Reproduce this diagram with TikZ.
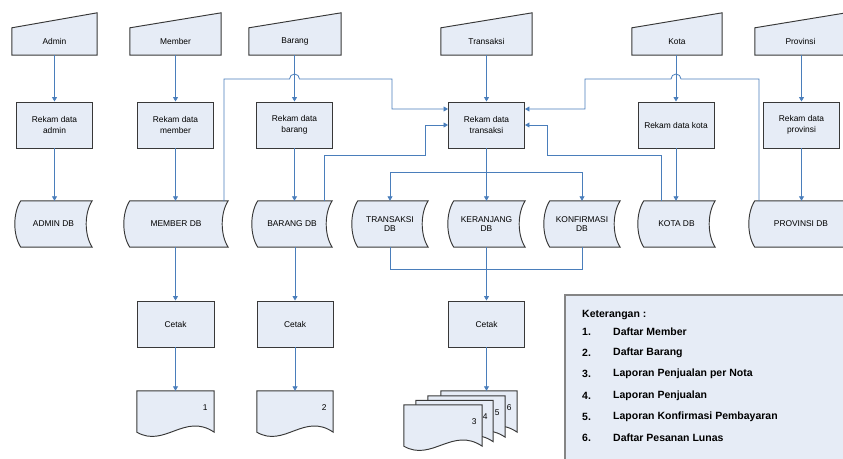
\documentclass[tikz,border=0pt]{standalone}
\usepackage{fontspec}
\setmainfont{Liberation Sans}
\usetikzlibrary{arrows.meta,calc}
\definecolor{boxfill}{HTML}{E6ECF6}
\definecolor{boxline}{HTML}{383838}
\definecolor{conncol}{HTML}{4A7EBB}
\definecolor{legline}{HTML}{858585}
\pgfdeclarelayer{bg}
\pgfsetlayers{bg,main}
\tikzset{
 base/.style={inner sep=0pt, font=\fontsize{8.4}{11}\selectfont, align=center},
 proc/.style={base, rectangle, draw=boxline, fill=boxfill, line width=0.95pt, minimum width=76pt, minimum height=46pt},
 ghost/.style={base, rectangle, draw=none},
 dbnode/.style={ghost, font=\fontsize{8.4}{9.5}\selectfont, minimum height=46pt},
 shp/.style={draw=boxline, fill=boxfill, line width=0.95pt},
 conn/.style={draw=conncol, line width=0.8pt, -{Triangle[length=4.5pt,width=5pt]}},
 wire/.style={draw=conncol, line width=0.8pt},
 numlab/.style={base},
 legtext/.style={inner sep=0pt, anchor=west, font=\fontsize{10.5}{12}\selectfont\bfseries},
}
\newcommand\inshape[1]{\begin{pgfonlayer}{bg}\path[shp] (#1.south west) -- (#1.north west) -- ([yshift=15pt]#1.north east) -- (#1.south east) -- cycle;\end{pgfonlayer}}
\newcommand\dbshape[1]{\begin{pgfonlayer}{bg}\path[shp] ([xshift=6pt]#1.north west) .. controls ([xshift=-2pt,yshift=-12pt]#1.north west) and ([xshift=-2pt,yshift=12pt]#1.south west) .. ([xshift=6pt]#1.south west) -- (#1.south east) .. controls ([xshift=-8pt,yshift=12pt]#1.south east) and ([xshift=-8pt,yshift=-12pt]#1.north east) .. (#1.north east) -- cycle;\end{pgfonlayer}}
\newcommand\docshape[1]{\begin{pgfonlayer}{bg}\path[shp] (#1.south west) -- (#1.north west) -- (#1.north east) -- (#1.south east) .. controls ($(#1.south west)!0.62!(#1.south east)+(0,-20)$) and ($(#1.south west)!0.36!(#1.south east)+(0,16)$) .. (#1.south west) -- cycle;\end{pgfonlayer}}
\begin{document}
\begin{tikzpicture}[x=1pt,y=-1pt]
\useasboundingbox (0,0) rectangle (843,458);
% inputs
\node[ghost, minimum width=85pt, minimum height=27pt] (iadm) at (54.5,41.5) {Admin}; \inshape{iadm}
\node[ghost, minimum width=91pt, minimum height=27pt] (imem) at (175.5,41.5) {Member}; \inshape{imem}
\node[ghost, minimum width=92pt, minimum height=27pt] (ibar) at (295,41.5) {Barang}; \inshape{ibar}
\node[ghost, minimum width=91pt, minimum height=27pt] (itra) at (486.5,41.5) {Transaksi}; \inshape{itra}
\node[ghost, minimum width=90pt, minimum height=27pt] (ikot) at (677,41.5) {Kota}; \inshape{ikot}
\node[ghost, minimum width=91pt, minimum height=27pt] (iprv) at (800.5,41.5) {Provinsi}; \inshape{iprv}
% processes
\node[proc] (padm) at (54.5,125) {Rekam data\\admin};
\node[proc] (pmem) at (175.5,125) {Rekam data\\member};
\node[proc] (pbar) at (294.5,125) {Rekam data\\barang};
\node[proc] (ptra) at (486.5,125) {Rekam data\\transaksi};
\node[proc] (pkot) at (676,125) {Rekam data kota};
\node[proc] (pprv) at (801.5,125) {Rekam data\\provinsi};
% databases
\node[dbnode, minimum width=77pt] (adb) at (53.5,224) {ADMIN DB}; \dbshape{adb}
\node[dbnode, minimum width=104pt] (mdb) at (176,224) {MEMBER DB}; \dbshape{mdb}
\node[dbnode, minimum width=80pt] (bdb) at (292,224) {BARANG DB}; \dbshape{bdb}
\node[dbnode, minimum width=76pt] (tdb) at (390,224) {TRANSAKSI\\DB}; \dbshape{tdb}
\node[dbnode, minimum width=77pt] (kdb) at (486.5,224) {KERANJANG\\DB}; \dbshape{kdb}
\node[dbnode, minimum width=76pt] (fdb) at (582,224) {KONFIRMASI\\DB}; \dbshape{fdb}
\node[dbnode, minimum width=77pt] (odb) at (676.5,224) {KOTA DB}; \dbshape{odb}
\node[dbnode, minimum width=104pt] (vdb) at (801,224) {PROVINSI DB}; \dbshape{vdb}
% print processes
\node[proc, minimum width=77pt] (c1) at (175.5,324) {Cetak};
\node[proc] (c2) at (295,324) {Cetak};
\node[proc] (c3) at (486.5,324) {Cetak};
% documents
\node[ghost, minimum width=77pt, minimum height=41pt] (d1) at (175.5,411.5) {}; \docshape{d1}
\node[numlab] (n1) at ([xshift=-9pt,yshift=3.5pt]d1.east) {1};
\node[ghost, minimum width=76pt, minimum height=41pt] (d2) at (295,411.5) {}; \docshape{d2}
\node[numlab] (n2) at ([xshift=-9pt,yshift=3.5pt]d2.east) {2};
\node[ghost, minimum width=76pt, minimum height=41pt] (pg4) at (479,411.5) {}; \docshape{pg4}
\node[ghost, minimum width=77pt, minimum height=41pt] (pg3) at (466.5,416.5) {}; \docshape{pg3}
\node[ghost, minimum width=77pt, minimum height=41pt] (pg2) at (454.5,421) {}; \docshape{pg2}
\node[ghost, minimum width=78pt, minimum height=41pt] (pg1) at (443,425.5) {}; \docshape{pg1}
\node[numlab] (n3) at ([xshift=-8pt,yshift=4pt]pg1.east) {3};
\node[numlab] (n4) at ([xshift=-8pt,yshift=4pt]pg2.east) {4};
\node[numlab] (n5) at ([xshift=-8pt,yshift=4pt]pg3.east) {5};
\node[numlab] (n6) at ([xshift=-8pt,yshift=4pt]pg4.east) {6};
% straight flows
\foreach \i/\p in {iadm/padm, imem/pmem, ibar/pbar, itra/ptra, ikot/pkot, iprv/pprv}
  \draw[conn] (\p.north |- \i.south) -- (\p.north);
\foreach \p/\d in {padm/adb, pmem/mdb, pbar/bdb, ptra/kdb, pkot/odb, pprv/vdb}
  \draw[conn] (\p.south) -- (\p.south |- \d.north);
\draw[conn] (mdb.south -| c1.north) -- (c1.north);
\draw[conn] (c1.south) -- (d1.north);
\draw[conn] (bdb.south -| c2.north) -- (c2.north);
\draw[conn] (c2.south) -- (d2.north);
\draw[conn] (kdb.south) -- (c3.north);
\draw[conn] (c3.south) -- (c3.south |- pg4.north);
% transaksi split
\coordinate (tsplit) at (486.5,172);
\draw[conn] (tsplit) -| (tdb.north);
\draw[conn] (tsplit) -| (fdb.north);
\draw[wire] (tdb.south) -- ++(0,22) -| (fdb.south);
% cross connections into Rekam data transaksi
\coordinate (ma) at (224,201);
\draw[conn] (ma) -- (224,79) -- (289.5,79) arc[start angle=180,end angle=0,radius=5pt] -- (392,79) -- (392,109) -- ([yshift=16pt]ptra.west);
\coordinate (ba) at (324,201);
\draw[conn] (ba) -- (324,155) -- (425,155) -- (425,125) -- (ptra.west);
\coordinate (ka) at (661,201);
\draw[conn] (ka) -- (661,155) -- (547,155) -- (547,125) -- (ptra.east);
\coordinate (va) at (759,201);
\draw[conn] (va) -- (759,79) -- (681,79) arc[start angle=0,end angle=180,radius=5pt] -- (585,79) -- (585,109) -- ([yshift=16pt]ptra.east);
% legend
\node[rectangle, draw=legline, fill=boxfill, line width=1.2pt, minimum width=285pt, minimum height=175pt, inner sep=0pt] (leg) at (707.5,382.5) {};
\node[legtext] (lt) at (582,315) {Keterangan :};
\node[legtext] (l1n) at (582,332) {1.}; \node[legtext] (l1) at (613,332) {Daftar Member};
\node[legtext] (l2n) at (582,353) {2.}; \node[legtext] (l2) at (613,353) {Daftar Barang};
\node[legtext] (l3n) at (582,374) {3.}; \node[legtext] (l3) at (613,374) {Laporan Penjualan per Nota};
\node[legtext] (l4n) at (582,396) {4.}; \node[legtext] (l4) at (613,396) {Laporan Penjualan};
\node[legtext] (l5n) at (582,417) {5.}; \node[legtext] (l5) at (613,417) {Laporan Konfirmasi Pembayaran};
\node[legtext] (l6n) at (582,438) {6.}; \node[legtext] (l6) at (613,438) {Daftar Pesanan Lunas};
\end{tikzpicture}
\end{document}
